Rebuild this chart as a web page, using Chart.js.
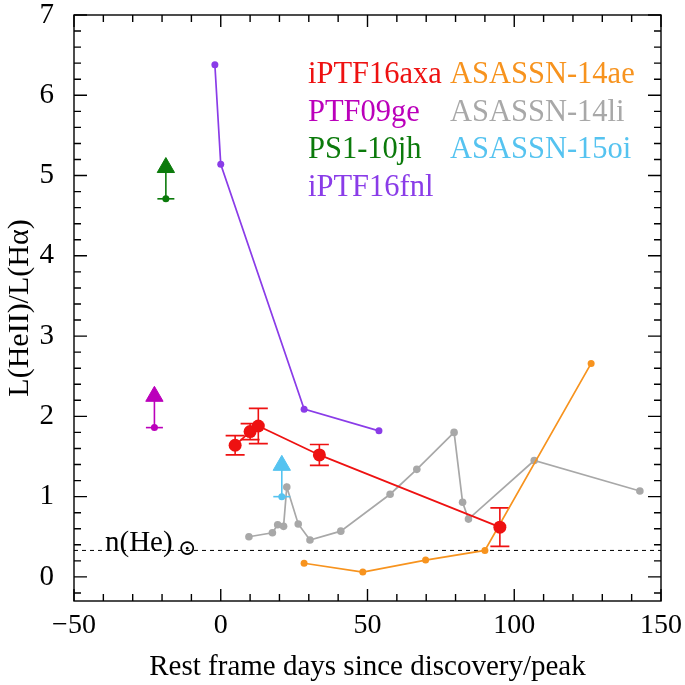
<!DOCTYPE html>
<html>
<head>
<meta charset="utf-8">
<script src="https://cdn.jsdelivr.net/npm/chart.js@4.4.1/dist/chart.umd.min.js"></script>
<style>
  html, body { margin: 0; padding: 0; background: #fff; }
  #wrap { width: 685px; height: 685px; }
</style>
</head>
<body>
<div id="wrap"><canvas id="chart" width="685" height="685"></canvas></div>
<script>
// values: x = rest frame days, y = L(HeII)/L(Halpha)
const axaDays  = [4.9, 10.0, 12.8, 33.6, 95.1];
const axaRatio = [1.64, 1.81, 1.88, 1.52, 0.62];
const axaErr   = [0.12, 0.10, 0.22, 0.13, 0.24];

const fnlDays  = [-2.0, 0.0, 28.4, 53.9];
const fnlRatio = [6.38, 5.14, 2.09, 1.82];

const liDays  = [9.6, 17.6, 19.4, 21.4, 22.5, 26.4, 30.4, 40.9, 57.7, 66.8, 79.5, 82.4, 84.4, 106.8, 142.8];
const liRatio = [0.50, 0.55, 0.65, 0.63, 1.12, 0.66, 0.46, 0.57, 1.03, 1.34, 1.80, 0.93, 0.72, 1.45, 1.07];

const aeDays  = [28.4, 48.4, 69.8, 90.0, 126.2];
const aeRatio = [0.17, 0.06, 0.21, 0.33, 2.66];

// lower limits: measured value and the arrow head
const ge09Days = [-22.6], ge09Ratio = [1.86], ge09Head = [2.25];
const jhDays   = [-18.7], jhRatio   = [4.71], jhHead   = [5.10];
const oiDays   = [20.8],  oiRatio   = [1.00], oiHead   = [1.39];

const heSolarDays  = [-50, 150];
const heSolarRatio = [0.33, 0.33];

const legendNames  = ['iPTF16axa', 'PTF09ge', 'PS1-10jh', 'iPTF16fnl', 'ASASSN-14ae', 'ASASSN-14li', 'ASASSN-15oi'];
const legendColors = ['#ee1111', '#bb00bb', '#0b7a0b', '#8a3ce8', '#f7931e', '#a8a8a8', '#55c3f0'];

const xTickLabels = [-50, 0, 50, 100, 150];
const yTickLabels = [0, 1, 2, 3, 4, 5, 6, 7];

const SERIF = "'Liberation Serif', 'DejaVu Serif', serif";
const pts = (xs, ys) => xs.map((x, i) => ({ x, y: ys[i] }));

function lineSet(label, color, xs, ys, r) {
  return {
    label, data: pts(xs, ys), showLine: true,
    borderColor: color, backgroundColor: color,
    borderWidth: 1.7, pointRadius: r, pointHoverRadius: r, pointBorderWidth: 0
  };
}

function limitSet(label, color, xs, ys, heads) {
  const data = [];
  xs.forEach((x, i) => { data.push({ x, y: ys[i] }, { x, y: ys[i] }, { x, y: heads[i] }); });
  return {
    label, data, showLine: true,
    borderColor: color, backgroundColor: color, borderWidth: 1.6,
    pointStyle: ['line', 'circle', 'triangle'],
    pointRadius: [8.5, 3.5, 10], pointBorderWidth: [1.6, 0, 1]
  };
}

// red error bars
const errorBars = {
  id: 'errorBars',
  beforeDatasetsDraw(chart) {
    const { ctx, scales: { x, y } } = chart;
    ctx.save();
    ctx.strokeStyle = legendColors[0];
    ctx.lineWidth = 1.6;
    axaDays.forEach((d, i) => {
      const px = x.getPixelForValue(d);
      const top = y.getPixelForValue(axaRatio[i] + axaErr[i]);
      const bot = y.getPixelForValue(axaRatio[i] - axaErr[i]);
      ctx.beginPath();
      ctx.moveTo(px, top); ctx.lineTo(px, bot);
      ctx.moveTo(px - 9.5, top); ctx.lineTo(px + 9.5, top);
      ctx.moveTo(px - 9.5, bot); ctx.lineTo(px + 9.5, bot);
      ctx.stroke();
    });
    ctx.restore();
  }
};

// box with inward ticks on all four sides, legend text and n(He) label
const frame = {
  id: 'frame',
  afterDraw(chart) {
    const { ctx, chartArea: a, scales: { x, y } } = chart;
    ctx.save();
    ctx.strokeStyle = '#000';
    ctx.lineWidth = 1.4;
    ctx.strokeRect(a.left, a.top, a.right - a.left, a.bottom - a.top);
    ctx.beginPath();
    for (let v = x.min; v <= x.max + 1e-6; v += 10) {
      const px = x.getPixelForValue(v);
      const len = Math.abs(v % 50) < 1e-6 ? 12 : 7;
      ctx.moveTo(px, a.bottom); ctx.lineTo(px, a.bottom - len);
      ctx.moveTo(px, a.top); ctx.lineTo(px, a.top + len);
    }
    for (let k = Math.ceil(y.min / 0.2 - 1e-6); k * 0.2 <= y.max + 1e-6; k++) {
      const py = y.getPixelForValue(k * 0.2);
      const len = k % 5 === 0 ? 13 : 7;
      ctx.moveTo(a.left, py); ctx.lineTo(a.left + len, py);
      ctx.moveTo(a.right, py); ctx.lineTo(a.right - len, py);
    }
    ctx.stroke();

    ctx.font = '30.5px ' + SERIF;
    ctx.textBaseline = 'alphabetic';
    ctx.textAlign = 'left';
    legendNames.forEach((name, i) => {
      const col = i < 4 ? 0 : 1;
      const row = i < 4 ? i : i - 4;
      ctx.fillStyle = legendColors[i];
      ctx.fillText(name, col ? 450 : 308, 83 + row * 37.5);
    });

    ctx.fillStyle = '#000';
    ctx.font = '29px ' + SERIF;
    ctx.fillText('n(He)', 105, 551);
    ctx.font = '22px DejaVu Serif';
    ctx.fillText('\u2299', 178, 555);
    ctx.restore();
  }
};

new Chart(document.getElementById('chart'), {
  type: 'scatter',
  data: {
    datasets: [
      lineSet('iPTF16axa', legendColors[0], axaDays, axaRatio, 6.5),
      limitSet('PTF09ge', legendColors[1], ge09Days, ge09Ratio, ge09Head),
      limitSet('PS1-10jh', legendColors[2], jhDays, jhRatio, jhHead),
      limitSet('ASASSN-15oi', legendColors[6], oiDays, oiRatio, oiHead),
      lineSet('iPTF16fnl', legendColors[3], fnlDays, fnlRatio, 3.5),
      lineSet('ASASSN-14ae', legendColors[4], aeDays, aeRatio, 3.5),
      lineSet('ASASSN-14li', legendColors[5], liDays, liRatio, 3.8),
      {
        label: 'n(He)', data: pts(heSolarDays, heSolarRatio), showLine: true,
        borderColor: '#000', borderWidth: 1, borderDash: [4, 4], pointRadius: 0
      }
    ]
  },
  options: {
    responsive: false,
    devicePixelRatio: 1,
    animation: false,
    layout: { padding: { top: 15, right: 24, left: 0, bottom: 0 } },
    plugins: { legend: { display: false }, tooltip: { enabled: false } },
    scales: {
      x: {
        type: 'linear', min: -50, max: 150,
        grid: { display: false, drawTicks: false },
        border: { display: false },
        afterFit: s => { s.height = 84; s.paddingLeft = 0; s.paddingRight = 0; },
        ticks: {
          stepSize: 10, autoSkip: false, maxRotation: 0, padding: 8,
          color: '#000', font: { family: SERIF, size: 28 },
          callback: v => xTickLabels.includes(v) ? (v < 0 ? '\u2212' + Math.abs(v) : String(v)) : ''
        },
        title: {
          display: true, text: 'Rest frame days since discovery/peak',
          color: '#000', font: { family: SERIF, size: 29 }, padding: { top: 4, bottom: 0 }
        }
      },
      y: {
        type: 'linear', min: -0.3, max: 7,
        grid: { display: false, drawTicks: false },
        border: { display: false },
        afterFit: s => { s.width = 74; s.paddingTop = 0; s.paddingBottom = 0; },
        ticks: {
          stepSize: 0.2, autoSkip: false, padding: 20,
          color: '#000', font: { family: SERIF, size: 29 },
          callback: v => {
            const n = Math.round(v);
            return Math.abs(v - n) < 1e-6 && yTickLabels.includes(n) ? String(n) : '';
          }
        },
        title: {
          display: true, text: 'L(HeII)/L(H\u03b1)',
          color: '#000', font: { family: SERIF, size: 30 }, padding: { top: 2, bottom: 0 }
        }
      }
    }
  },
  plugins: [errorBars, frame]
});
</script>
</body>
</html>
